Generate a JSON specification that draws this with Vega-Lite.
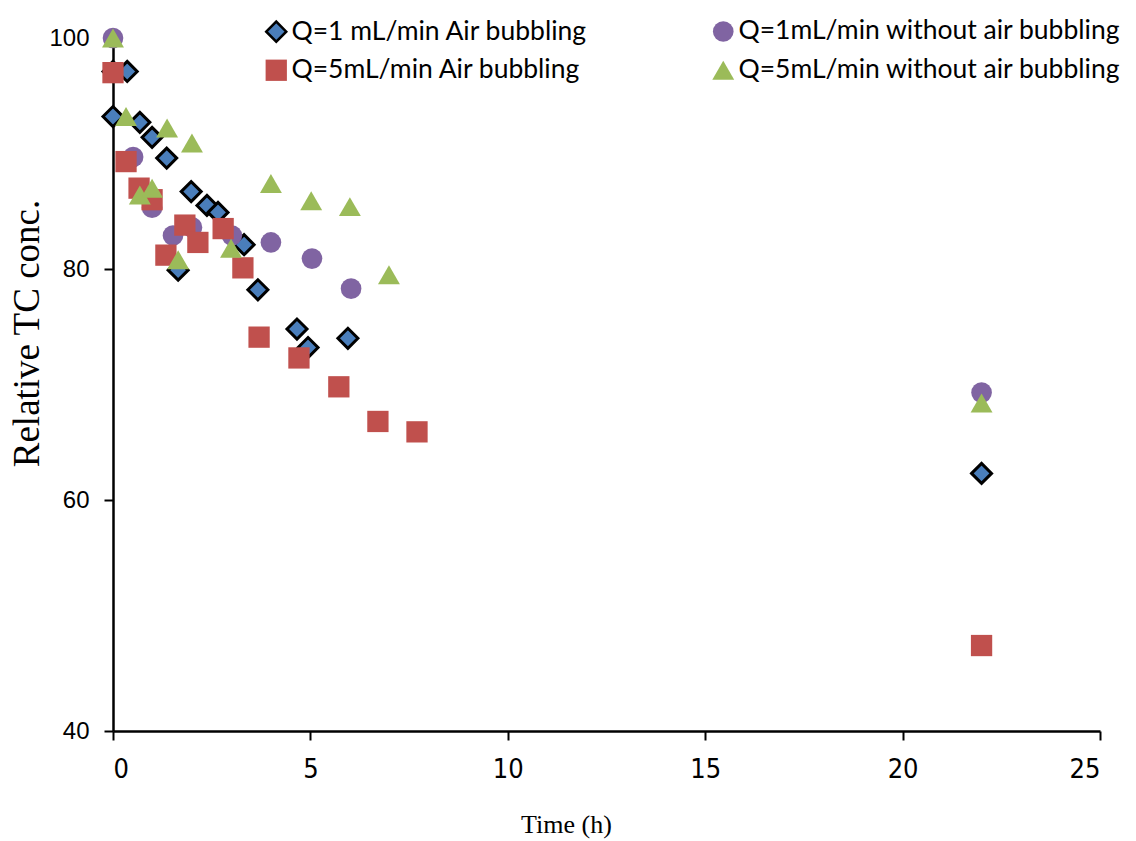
{
  "$schema": "https://vega.github.io/schema/vega-lite/v6.json",
  "width": 987,
  "height": 693,
  "autosize": "none",
  "padding": {"left": 113, "top": 38, "right": 36, "bottom": 110},
  "background": "white",
  "config": {"view": {"stroke": null}},
  "data": {"values": [
    {"series": "Q=1 mL/min Air bubbling", "t": 0, "c": 97.1},
    {"series": "Q=1 mL/min Air bubbling", "t": 0, "c": 93.2},
    {"series": "Q=1 mL/min Air bubbling", "t": 0.36, "c": 97.1},
    {"series": "Q=1 mL/min Air bubbling", "t": 0.68, "c": 92.7},
    {"series": "Q=1 mL/min Air bubbling", "t": 0.99, "c": 91.4},
    {"series": "Q=1 mL/min Air bubbling", "t": 1.36, "c": 89.6},
    {"series": "Q=1 mL/min Air bubbling", "t": 1.65, "c": 79.9},
    {"series": "Q=1 mL/min Air bubbling", "t": 1.98, "c": 86.7},
    {"series": "Q=1 mL/min Air bubbling", "t": 2.38, "c": 85.5},
    {"series": "Q=1 mL/min Air bubbling", "t": 2.66, "c": 84.9},
    {"series": "Q=1 mL/min Air bubbling", "t": 3.32, "c": 82.1},
    {"series": "Q=1 mL/min Air bubbling", "t": 3.67, "c": 78.2},
    {"series": "Q=1 mL/min Air bubbling", "t": 4.66, "c": 74.8},
    {"series": "Q=1 mL/min Air bubbling", "t": 4.94, "c": 73.2},
    {"series": "Q=1 mL/min Air bubbling", "t": 5.95, "c": 74.0},
    {"series": "Q=1 mL/min Air bubbling", "t": 22.0, "c": 62.3},
    {"series": "Q=1mL/min without air bubbling", "t": 0, "c": 100},
    {"series": "Q=1mL/min without air bubbling", "t": 0.51, "c": 89.7},
    {"series": "Q=1mL/min without air bubbling", "t": 0.99, "c": 85.3},
    {"series": "Q=1mL/min without air bubbling", "t": 1.52, "c": 82.9},
    {"series": "Q=1mL/min without air bubbling", "t": 2.0, "c": 83.6},
    {"series": "Q=1mL/min without air bubbling", "t": 3.01, "c": 82.9},
    {"series": "Q=1mL/min without air bubbling", "t": 4.0, "c": 82.3},
    {"series": "Q=1mL/min without air bubbling", "t": 5.04, "c": 80.9},
    {"series": "Q=1mL/min without air bubbling", "t": 6.03, "c": 78.3},
    {"series": "Q=1mL/min without air bubbling", "t": 22.0, "c": 69.3},
    {"series": "Q=5mL/min Air bubbling", "t": 0, "c": 97.0},
    {"series": "Q=5mL/min Air bubbling", "t": 0.33, "c": 89.3},
    {"series": "Q=5mL/min Air bubbling", "t": 0.66, "c": 87.0},
    {"series": "Q=5mL/min Air bubbling", "t": 0.99, "c": 86.0},
    {"series": "Q=5mL/min Air bubbling", "t": 1.34, "c": 81.2},
    {"series": "Q=5mL/min Air bubbling", "t": 1.82, "c": 83.8},
    {"series": "Q=5mL/min Air bubbling", "t": 2.15, "c": 82.3},
    {"series": "Q=5mL/min Air bubbling", "t": 2.79, "c": 83.5},
    {"series": "Q=5mL/min Air bubbling", "t": 3.29, "c": 80.1},
    {"series": "Q=5mL/min Air bubbling", "t": 3.70, "c": 74.1},
    {"series": "Q=5mL/min Air bubbling", "t": 4.71, "c": 72.3},
    {"series": "Q=5mL/min Air bubbling", "t": 5.72, "c": 69.8},
    {"series": "Q=5mL/min Air bubbling", "t": 6.71, "c": 66.8},
    {"series": "Q=5mL/min Air bubbling", "t": 7.70, "c": 65.9},
    {"series": "Q=5mL/min Air bubbling", "t": 22.0, "c": 47.4},
    {"series": "Q=5mL/min without air bubbling", "t": 0, "c": 100},
    {"series": "Q=5mL/min without air bubbling", "t": 0.33, "c": 93.2},
    {"series": "Q=5mL/min without air bubbling", "t": 0.68, "c": 86.4},
    {"series": "Q=5mL/min without air bubbling", "t": 0.99, "c": 87.0},
    {"series": "Q=5mL/min without air bubbling", "t": 1.37, "c": 92.2},
    {"series": "Q=5mL/min without air bubbling", "t": 1.65, "c": 80.8},
    {"series": "Q=5mL/min without air bubbling", "t": 2.0, "c": 90.9},
    {"series": "Q=5mL/min without air bubbling", "t": 2.99, "c": 81.8},
    {"series": "Q=5mL/min without air bubbling", "t": 4.0, "c": 87.4},
    {"series": "Q=5mL/min without air bubbling", "t": 5.02, "c": 85.9},
    {"series": "Q=5mL/min without air bubbling", "t": 6.0, "c": 85.4},
    {"series": "Q=5mL/min without air bubbling", "t": 6.99, "c": 79.5},
    {"series": "Q=5mL/min without air bubbling", "t": 22.0, "c": 68.4}
  ]},
  "mark": {"type": "point", "filled": true, "opacity": 1, "strokeWidth": 3},
  "encoding": {
    "x": {
      "field": "t", "type": "quantitative",
      "scale": {"domain": [0, 25], "nice": false, "zero": false},
      "axis": {
        "values": [0, 5, 10, 15, 20, 25],
        "grid": false, "domainColor": "black", "domainWidth": 2.5,
        "tickColor": "black", "tickWidth": 2, "tickSize": 9,
        "labelFont": "'Liberation Sans Narrow', 'Arial Narrow', 'DejaVu Sans Condensed', sans-serif", "labelFontSize": 27, "labelColor": "black",
        "labelPadding": 16,
        "title": "Time (h)", "titleFont": "Liberation Serif", "titleFontSize": 26,
        "titleFontWeight": "normal", "titleColor": "black",
        "titleX": 453, "titleY": 101, "titleBaseline": "alphabetic"
      }
    },
    "y": {
      "field": "c", "type": "quantitative",
      "scale": {"domain": [40, 100], "nice": false, "zero": false},
      "axis": {
        "values": [40, 60, 80, 100],
        "grid": false, "domainColor": "black", "domainWidth": 2.5,
        "tickColor": "black", "tickWidth": 2, "tickSize": 9,
        "labelFont": "Liberation Sans", "labelFontSize": 24, "labelColor": "black",
        "labelPadding": 15,
        "title": "Relative TC conc.", "titleFont": "Liberation Serif", "titleFontSize": 37,
        "titleFontWeight": "normal", "titleColor": "black",
        "titleX": -75, "titleY": 295, "titleAngle": -90, "titleBaseline": "alphabetic", "titleAlign": "center"
      }
    },
    "color": {
      "field": "series", "type": "nominal",
      "scale": {
        "domain": ["Q=1 mL/min Air bubbling", "Q=1mL/min without air bubbling", "Q=5mL/min Air bubbling", "Q=5mL/min without air bubbling"],
        "range": ["#4a7ebb", "#8064a2", "#c0504d", "#9bbb59"]
      },
      "legend": {
        "title": null, "orient": "none", "legendX": 150, "legendY": -20,
        "direction": "horizontal", "columns": 2, "columnPadding": 119, "rowPadding": 7,
        "labelFont": "Lato", "labelFontSize": 26.5, "labelColor": "black", "labelLimit": 800,
        "symbolSize": 220, "symbolStrokeWidth": 2.5, "labelOffset": 2
      }
    },
    "shape": {
      "field": "series", "type": "nominal",
      "scale": {
        "domain": ["Q=1 mL/min Air bubbling", "Q=1mL/min without air bubbling", "Q=5mL/min Air bubbling", "Q=5mL/min without air bubbling"],
        "range": ["diamond", "circle", "square", "triangle-up"]
      }
    },
    "stroke": {
      "field": "series", "type": "nominal",
      "scale": {
        "domain": ["Q=1 mL/min Air bubbling", "Q=1mL/min without air bubbling", "Q=5mL/min Air bubbling", "Q=5mL/min without air bubbling"],
        "range": ["black", "transparent", "transparent", "transparent"]
      }
    },
    "size": {
      "field": "series", "type": "nominal",
      "scale": {
        "domain": ["Q=1 mL/min Air bubbling", "Q=1mL/min without air bubbling", "Q=5mL/min Air bubbling", "Q=5mL/min without air bubbling"],
        "range": [400, 480, 290, 520]
      },
      "legend": null
    }
  }
}
